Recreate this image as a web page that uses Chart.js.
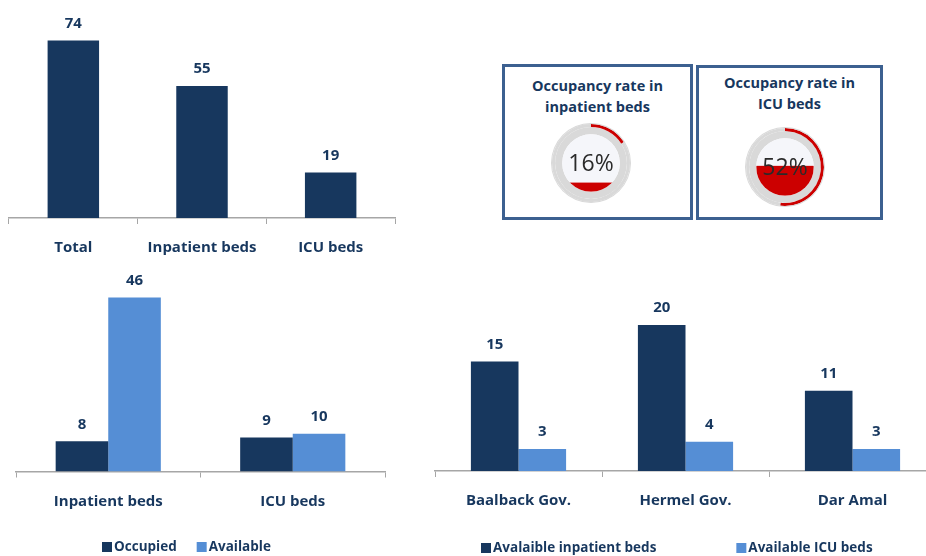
<!DOCTYPE html>
<html>
<head>
<meta charset="utf-8">
<script src="https://cdn.jsdelivr.net/npm/chart.js@4.4.0/dist/chart.umd.min.js"></script>
<style>
body{margin:0;width:926px;height:556px;overflow:hidden;background:#fff;position:relative}
canvas,.box,.ttl{position:absolute}
.box{border:3px solid #3c6090;box-sizing:border-box}
.ttl{font:bold 14.5px 'Open Sans';line-height:21px;color:#17375e;text-align:center}
</style>
</head>
<body>
<canvas id="c1" width="410" height="265" style="left:0;top:0"></canvas>
<canvas id="c2" width="410" height="291" style="left:0;top:265px"></canvas>
<canvas id="c3" width="530" height="291" style="left:420px;top:265px"></canvas>
<div class="box" style="left:502px;top:64px;width:191px;height:156px"></div>
<div class="box" style="left:696px;top:65px;width:187px;height:155px"></div>
<div class="ttl" id="t0" style="left:502px;top:75px;width:191px"></div>
<div class="ttl" id="t1" style="left:696px;top:72px;width:187px"></div>
<canvas id="g0" width="90" height="90" style="left:546px;top:118px"></canvas>
<canvas id="g1" width="90" height="90" style="left:740px;top:122px"></canvas>
<script>
var navy = '#17375E', light = '#558ED5', red = '#CC0000', grey = '#D9D9D9';

// data
var totalCats = ['Total', 'Inpatient beds', 'ICU beds'];
var totalVals = [74, 55, 19];
var typeCats = ['Inpatient beds', 'ICU beds'];
var occupied = [8, 9];
var available = [46, 10];
var hospCats = ['Baalback Gov.', 'Hermel Gov.', 'Dar Amal'];
var hospInpatient = [15, 20, 11];
var hospIcu = [3, 4, 3];
var gaugeTitles = [['Occupancy rate in', 'inpatient beds'], ['Occupancy rate in', 'ICU beds']];
var gaugeRates = [16, 52];

Chart.defaults.font.family = 'Open Sans';

// numbers above the bars
var valueLabels = {
    id: 'valueLabels',
    afterDatasetsDraw: function(chart) {
        var ctx = chart.ctx;
        ctx.save();
        ctx.font = 'bold 15px "Open Sans"';
        ctx.fillStyle = navy;
        ctx.textAlign = 'center';
        ctx.textBaseline = 'middle';
        chart.data.datasets.forEach(function(ds, i) {
            chart.getDatasetMeta(i).data.forEach(function(bar, j) {
                ctx.fillText(ds.data[j], bar.x, bar.y - 17);
            });
        });
        ctx.restore();
    }
};

// square-box legend like the excel one
var boxLegend = {
    id: 'boxLegend',
    afterDraw: function(chart, args, opts) {
        var ctx = chart.ctx, x = opts.x;
        ctx.save();
        ctx.font = 'bold 13.5px "Open Sans"';
        ctx.textBaseline = 'middle';
        chart.data.datasets.forEach(function(ds) {
            ctx.fillStyle = ds.backgroundColor;
            ctx.fillRect(x, opts.y - 5, 10, 10);
            ctx.fillStyle = navy;
            ctx.fillText(ds.label, x + 12, opts.y);
            x += 12 + ctx.measureText(ds.label).width + opts.gap;
        });
        ctx.restore();
    }
};

function barChart(id, labels, datasets, cfg) {
    return new Chart(document.getElementById(id), {
        type: 'bar',
        data: { labels: labels, datasets: datasets },
        options: {
            responsive: false,
            animation: false,
            layout: { padding: cfg.padding },
            plugins: {
                legend: { display: false },
                tooltip: { enabled: false },
                boxLegend: cfg.legend || false
            },
            scales: {
                x: {
                    grid: { drawOnChartArea: false, tickLength: 6, color: '#a6a6a6', offset: true },
                    border: { color: '#a6a6a6', width: 1.5 },
                    ticks: { color: navy, font: { size: 15, weight: 'bold' }, padding: 15 },
                    afterFit: function(s) { s.height = cfg.axisH; }
                },
                y: { display: false, min: 0, max: cfg.max }
            }
        },
        plugins: [valueLabels, boxLegend]
    });
}

barChart('c1', totalCats, [
    { data: totalVals, backgroundColor: navy, barPercentage: 0.4, categoryPercentage: 1 }
], { padding: { left: 9, right: 15, top: 2, bottom: 0 }, axisH: 47, max: 90 });

barChart('c2', typeCats, [
    { label: 'Occupied', data: occupied, backgroundColor: navy, barPercentage: 1, categoryPercentage: 0.57 },
    { label: 'Available', data: available, backgroundColor: light, barPercentage: 1, categoryPercentage: 0.57 }
], { padding: { left: 16, right: 25, top: 17.5, bottom: 0 }, axisH: 84.5, max: 50,
     legend: { x: 102, y: 282, gap: 20 } });

barChart('c3', hospCats, [
    { label: 'Avalaible inpatient beds', data: hospInpatient, backgroundColor: navy, barPercentage: 1, categoryPercentage: 0.57 },
    { label: 'Available ICU beds', data: hospIcu, backgroundColor: light, barPercentage: 1, categoryPercentage: 0.57 }
], { padding: { left: 15, right: 14, top: 23.5, bottom: 0 }, axisH: 85, max: 25,
     legend: { x: 61, y: 283, gap: 80 } });

// gauge: inner light disc, red "liquid" level and the percent text
var gaugeFill = {
    id: 'gaugeFill',
    afterDatasetsDraw: function(chart) {
        var arc = chart.getDatasetMeta(2).data[0];
        var r = arc.innerRadius, cx = arc.x, cy = arc.y;
        var rate = chart.data.datasets[1].data[0];
        var ctx = chart.ctx;
        ctx.save();
        ctx.beginPath();
        ctx.arc(cx, cy, r, 0, Math.PI * 2);
        ctx.fillStyle = '#F5F6FA';
        ctx.fill();
        ctx.clip();
        var top = cy + r - 2 * r * rate / 100;
        ctx.fillStyle = red;
        ctx.fillRect(cx - r, top, 2 * r, cy + r - top);
        ctx.restore();
        ctx.save();
        ctx.font = '23px "Open Sans"';
        ctx.fillStyle = '#2a2a2a';
        ctx.textAlign = 'center';
        ctx.textBaseline = 'middle';
        ctx.fillText(rate + '%', cx, cy + 1);
        ctx.restore();
    }
};

gaugeRates.forEach(function(rate, i) {
    document.getElementById('t' + i).innerHTML = gaugeTitles[i].join('<br>');
    new Chart(document.getElementById('g' + i), {
        type: 'doughnut',
        data: {
            datasets: [
                { data: [100], backgroundColor: [grey], weight: 1 },
                { data: [rate, 100 - rate], backgroundColor: [red, grey], weight: 3 },
                { data: [100], backgroundColor: [grey], weight: 7 }
            ]
        },
        options: {
            responsive: false,
            animation: false,
            cutout: '72%',
            borderWidth: 0,
            hoverOffset: 0,
            layout: { padding: 5 },
            plugins: { legend: { display: false }, tooltip: { enabled: false } }
        },
        plugins: [gaugeFill]
    });
});
</script>
</body>
</html>
